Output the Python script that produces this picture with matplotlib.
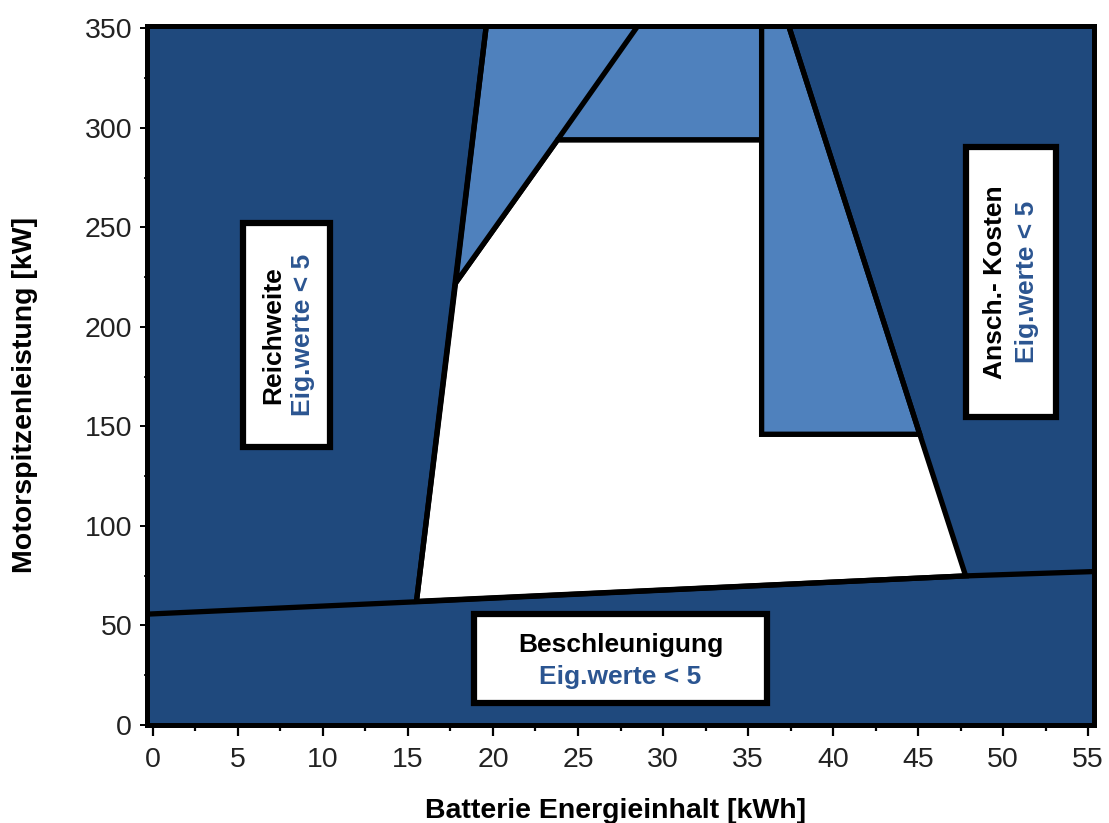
import matplotlib
matplotlib.use('Agg')
import matplotlib.pyplot as plt
from matplotlib.patches import Polygon, Rectangle

# ---------------- data ----------------
x_ticks = [0, 5, 10, 15, 20, 25, 30, 35, 40, 45, 50, 55]
y_ticks = [0, 50, 100, 150, 200, 250, 300, 350]
x_label = "Batterie Energieinhalt [kWh]"
y_label = "Motorspitzenleistung [kW]"

# feasible (white) design region
feasible_x = [15.5, 17.8, 23.8, 35.8, 35.8, 45.1, 47.8]
feasible_y = [62.0, 222.0, 294.0, 294.0, 146.0, 146.0, 74.8]

# light blue regions
light1_x = [17.8, 19.6, 35.8, 35.8, 23.8]
light1_y = [222.0, 351.0, 351.0, 294.0, 294.0]
light2_x = [35.8, 37.4, 45.1, 35.8]
light2_y = [351.0, 351.0, 146.0, 146.0]

# boundary lines
accel_x = [-0.3, 15.5, 47.8, 55.4]
accel_y = [55.6, 61.8, 74.8, 77.0]
reich_x = [15.5, 19.6]
reich_y = [62.0, 351.0]
diag_x = [23.8, 28.5]
diag_y = [294.0, 351.0]
cost_x = [45.1, 37.4]
cost_y = [146.0, 351.0]

# labelled boxes: (x0, y0, width, height)
box_reich = (5.3, 139.5, 5.1, 112.5)
box_cost = (47.8, 154.5, 5.3, 136.0)
box_accel = (18.9, 10.8, 17.2, 45.0)
title_reich = "Reichweite"
title_cost = "Ansch.- Kosten"
title_accel = "Beschleunigung"
eig_text = "Eig.werte < 5"

dark = '#1F497D'
light = '#4F81BD'
eig_col = '#2B5591'

plt.rcParams['font.family'] = ['Liberation Sans', 'DejaVu Sans']

fig = plt.figure(figsize=(11.09, 8.23), dpi=100)
ax = fig.add_axes([0.1330, 0.1194, 0.8535, 0.8486])
ax.set_facecolor(dark)

lw = 3.8
ax.add_patch(Polygon(list(zip(feasible_x, feasible_y)), closed=True,
                     facecolor='white', edgecolor='black', lw=lw, zorder=2))
ax.add_patch(Polygon(list(zip(light1_x, light1_y)), closed=True,
                     facecolor=light, edgecolor='black', lw=lw, zorder=2))
ax.add_patch(Polygon(list(zip(light2_x, light2_y)), closed=True,
                     facecolor=light, edgecolor='black', lw=lw, zorder=2))
for xs, ys in [(accel_x, accel_y), (reich_x, reich_y), (diag_x, diag_y), (cost_x, cost_y)]:
    ax.plot(xs, ys, color='black', lw=lw, solid_capstyle='butt', zorder=3)

for (bx, by, bw, bh) in [box_reich, box_cost, box_accel]:
    ax.add_patch(Rectangle((bx, by), bw, bh, facecolor='white',
                           edgecolor='black', lw=4.5, zorder=4))

fs = 19
# Reichweite box
cy = box_reich[1] + box_reich[3] / 2
ax.text(box_reich[0] + 1.75, cy, title_reich, rotation=90, ha='center', va='center',
        fontsize=fs, fontweight='bold', color='black', zorder=5)
ax.text(box_reich[0] + 3.55, cy, eig_text, rotation=90, ha='center', va='center',
        fontsize=fs, fontweight='bold', color=eig_col, zorder=5)
# cost box
cy = box_cost[1] + box_cost[3] / 2
ax.text(box_cost[0] + 1.7, cy, title_cost, rotation=90, ha='center', va='center',
        fontsize=fs, fontweight='bold', color='black', zorder=5)
ax.text(box_cost[0] + 3.6, cy, eig_text, rotation=90, ha='center', va='center',
        fontsize=fs, fontweight='bold', color=eig_col, zorder=5)
# acceleration box
cx = box_accel[0] + box_accel[2] / 2
ax.text(cx, box_accel[1] + 29.4, title_accel, ha='center', va='center',
        fontsize=fs, fontweight='bold', color='black', zorder=5)
ax.text(cx, box_accel[1] + 13.3, eig_text, ha='center', va='center',
        fontsize=fs, fontweight='bold', color=eig_col, zorder=5)

for s in ax.spines.values():
    s.set_linewidth(3.6)
    s.set_color('black')
    s.set_zorder(6)

ax.set_xticks(x_ticks)
ax.set_yticks(y_ticks)
ax.set_xticks([v + 2.5 for v in x_ticks[:-1]], minor=True)
ax.set_yticks([v + 25 for v in y_ticks[:-1]], minor=True)
ax.set_xlim(-0.32, 55.35)
ax.set_ylim(0, 351)
ax.tick_params(axis='x', which='major', direction='out', length=8, width=1.6,
               pad=8, labelsize=20.5, labelcolor='#222222')
ax.tick_params(axis='x', which='minor', direction='out', length=4.5, width=1.6)
ax.tick_params(axis='y', which='major', direction='out', length=5, width=1.4,
               pad=6, labelsize=20.5, labelcolor='#222222')
ax.tick_params(axis='y', which='minor', direction='out', length=2, width=1.2)

fig.text(616 / 1109, 1 - 798 / 823, x_label, ha='center', va='top',
         fontsize=20.5, fontweight='bold')
fig.text(25 / 1109, 1 - 395 / 823, y_label, ha='center', va='center',
         rotation=90, fontsize=20.5, fontweight='bold')

fig.savefig('out.png', dpi=100)
